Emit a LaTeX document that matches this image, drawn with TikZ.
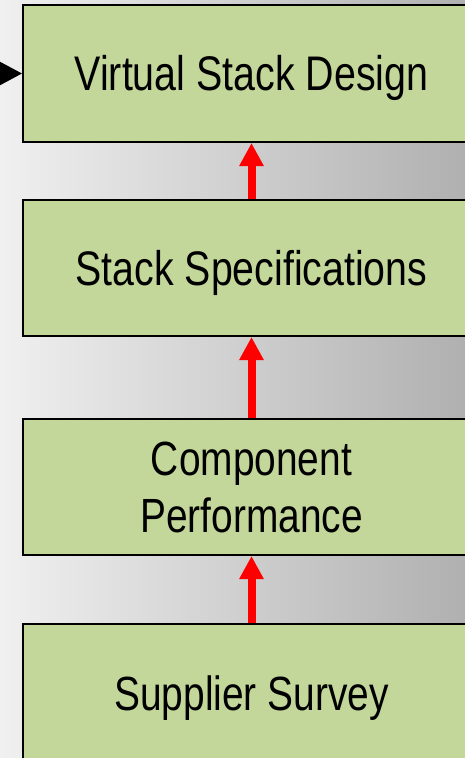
\documentclass[tikz,border=0pt]{standalone}
\usepackage{fontspec}
\setmainfont{Liberation Sans}[FakeStretch=0.81]
\usetikzlibrary{arrows.meta}
\definecolor{boxgreen}{HTML}{C4D79B}
\definecolor{bgleft}{HTML}{F0F0F0}
\definecolor{bgright}{HTML}{B0B0B0}
\tikzset{
  stagebox/.style={draw=black, line width=2pt, fill=boxgreen, inner sep=0pt,
    minimum width=457pt, align=center, text=black,
    font=\fontsize{48}{57}\selectfont},
  oneline/.style={text height=34.5pt, text depth=0pt},
  uparrow/.style={draw=red, line width=8pt,
    -{Triangle[width=23pt,length=23pt]}, red},
  inarrow/.style={draw=black, line width=2pt,
    -{Triangle[width=23pt,length=22pt]}, black}
}
\begin{document}
\begin{tikzpicture}[x=1pt,y=-1pt]
\useasboundingbox (0,0) rectangle (465,758);
\fill[left color=bgleft, right color=bgright] (0,0) rectangle (465,758);
\node[stagebox, oneline, minimum height=137pt, font=\fontsize{48.6}{57}\selectfont] (vsd) at (251.5,73.5) {Virtual Stack Design};
\node[stagebox, oneline, minimum height=136pt, font=\fontsize{48.5}{57}\selectfont] (ss) at (251.5,268) {Stack Specifications};
\node[stagebox, minimum height=136pt] (cp) at (251.5,487) {Component\\Performance};
\node[stagebox, oneline, minimum height=139pt] (sup) at (251.5,693.5) {Supplier Survey};
\coordinate (in) at (-40,73.5);
\draw[inarrow] (in) -- (vsd.west);
\draw[uparrow] (ss.north) -- (vsd.south);
\draw[uparrow] (cp.north) -- (ss.south);
\draw[uparrow] (sup.north) -- (cp.south);
\end{tikzpicture}
\end{document}
